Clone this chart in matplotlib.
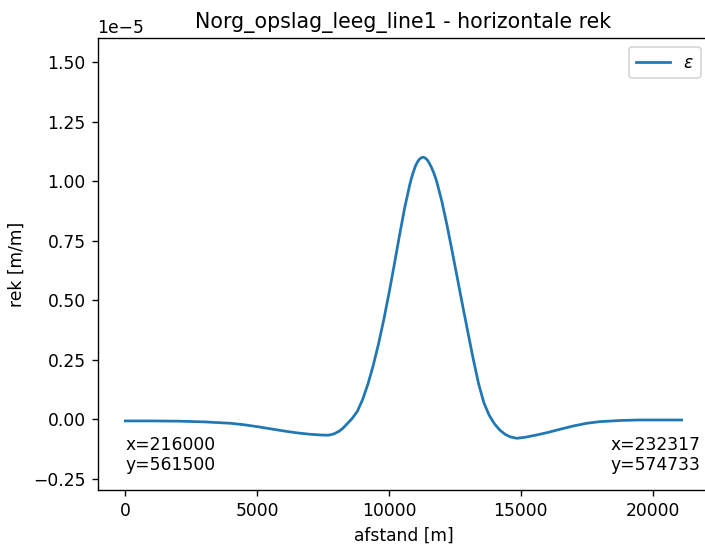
import matplotlib
matplotlib.use("Agg")
import matplotlib.pyplot as plt
import numpy as np

# afstand [m] and rek [1e-5 m/m]
afstand = [0, 1000, 2000, 3000, 4000, 4500, 5000, 5500, 6000, 6500, 7000,
           7400, 7700, 7900, 8100, 8250, 8400, 8600, 8800, 9000, 9200,
           9400, 9600, 9800, 10000, 10200, 10400, 10600, 10800, 10900,
           11000, 11080, 11150, 11230, 11300, 11370, 11450, 11520, 11600,
           11700, 11800, 12000, 12200, 12400, 12600, 12800, 13000, 13200,
           13400, 13600, 13800, 14000, 14200, 14400, 14600, 14850, 15200,
           15600, 16000, 16600, 17000, 17500, 18000, 18800, 19500, 20200,
           21100]
rek = [-0.008, -0.008, -0.009, -0.012, -0.018, -0.024, -0.032, -0.041,
       -0.050, -0.058, -0.064, -0.067, -0.068, -0.063, -0.052, -0.039,
       -0.022, 0.002, 0.032, 0.082, 0.146, 0.224, 0.314, 0.416, 0.528,
       0.648, 0.772, 0.890, 0.990, 1.030, 1.062, 1.080, 1.091, 1.098,
       1.100, 1.097, 1.089, 1.077, 1.060, 1.034, 1.002, 0.917, 0.815,
       0.703, 0.588, 0.473, 0.361, 0.250, 0.148, 0.068, 0.016, -0.020,
       -0.046, -0.064, -0.075, -0.081, -0.076, -0.067, -0.057, -0.040,
       -0.029, -0.018, -0.011, -0.006, -0.004, -0.004, -0.004]

start_label = "x=216000\ny=561500"
end_label = "x=232317\ny=574733"

x = np.array(afstand, dtype=float)
y = np.array(rek) * 1e-5

fig = plt.figure(figsize=(705 / 123, 549 / 123), dpi=123)
ax = fig.add_axes([0.1383, 0.1067, 0.868, 0.8237])
ax.plot(x, y, color="#1f77b4", lw=1.6, label=r"$\varepsilon$")
ax.set_ylim(-0.3e-5, 1.6e-5)
ax.set_title("Norg_opslag_leeg_line1 - horizontale rek")
ax.set_xlabel("afstand [m]")
ax.set_ylabel("rek [m/m]")
ax.legend(loc="upper right")

ax.text(0, -0.07e-5, start_label, ha="left", va="top")
ax.text(21800, -0.07e-5, end_label, ha="right", va="top")

fig.savefig("out.png", dpi=123)
